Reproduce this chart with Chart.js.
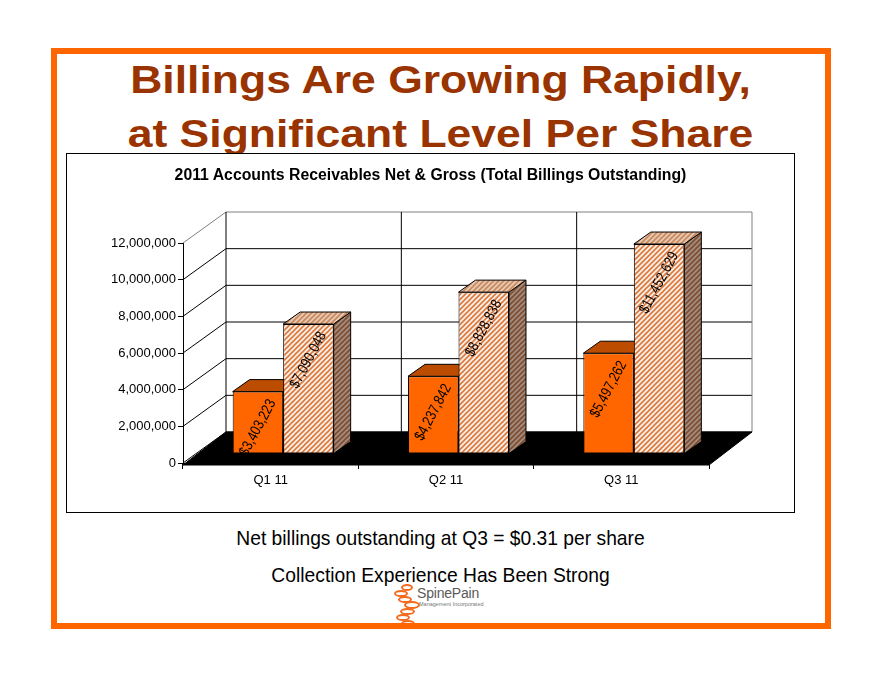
<!DOCTYPE html>
<html>
<head>
<meta charset="utf-8">
<script src="https://cdn.jsdelivr.net/npm/chart.js@4.4.0/dist/chart.umd.min.js"></script>
<style>
  body { margin: 0; width: 881px; height: 680px; background: #fff; position: relative; overflow: hidden;
         font-family: "Liberation Sans", Arial, sans-serif; }
  #frame { position: absolute; left: 51px; top: 48px; width: 780px; height: 581px; box-sizing: border-box;
           border: 6px solid #FF6600; z-index: 3; }
  #title { position: absolute; left: 0; top: 53px; width: 881px; text-align: center; color: #993300;
           font-weight: bold; font-size: 38px; line-height: 54px; transform: scaleX(1.171); }
  #chartBox { position: absolute; left: 66px; top: 153px; width: 729px; height: 360px; box-sizing: border-box;
              border: 1px solid #000; background: #fff; z-index: 2; }
  #chartBox canvas { display: block; position: absolute; left: 0; top: 0; }
  #chartTitle { position: absolute; left: 0; top: 11px; width: 727px; text-align: center; font-weight: bold;
                font-size: 15.8px; line-height: 20px; color: #000; z-index: 1; }
  #notes { position: absolute; left: 0; top: 519px; width: 881px; text-align: center; color: #000;
           font-size: 21px; line-height: 37px; transform: scaleX(0.917); }
  .disc { position: absolute; border: 2.5px solid #F26B1D; border-radius: 50%; background: #fff; }
  #logoName { position: absolute; left: 417px; top: 585px; font-size: 14px; color: #5a5a5a; letter-spacing: -0.2px; }
  #logoSub { position: absolute; left: 419px; top: 601px; font-size: 5.5px; color: #777; }
</style>
</head>
<body>
<div id="title">Billings Are Growing Rapidly,<br>at Significant Level Per Share</div>
<div id="chartBox">
  <canvas id="myChart" width="727" height="358"></canvas>
  <div id="chartTitle"></div>
</div>
<div id="notes">Net billings outstanding at Q3 = $0.31 per share<br>Collection Experience Has Been Strong</div>
<div class="disc" style="left:401px;top:584px;width:8px;height:3px"></div>
<div class="disc" style="left:394px;top:590px;width:10px;height:3px"></div>
<div class="disc" style="left:398px;top:596px;width:10px;height:3px"></div>
<div class="disc" style="left:404px;top:601px;width:12px;height:4px"></div>
<div class="disc" style="left:400px;top:608px;width:11px;height:3px"></div>
<div class="disc" style="left:396px;top:614px;width:10px;height:3px"></div>
<div class="disc" style="left:401px;top:620px;width:10px;height:3px"></div>
<div id="logoName">SpinePain</div>
<div id="logoSub">Management Incorporated</div>
<div id="frame"></div>

<script>
const categories = ['Q1 11', 'Q2 11', 'Q3 11'];
const netBillings = [3403223, 4237842, 5497262];
const grossBillings = [7090048, 8828838, 11452629];
const yMax = 12000000;
const yStep = 2000000;
const chartTitle = '2011 Accounts Receivables Net & Gross (Total Billings Outstanding)';

document.getElementById('chartTitle').textContent = chartTitle;

// 3d look: back wall offset, bars sit a bit into the floor, bar depth
const WALL_DX = 43, WALL_DY = -31;
const SHIFT_X = 12.5, SHIFT_Y = -9;
const BAR_DX = 17, BAR_DY = -12;

function hatch(bg, fg) {
    const c = document.createElement('canvas');
    c.width = 5; c.height = 5;
    const g = c.getContext('2d');
    g.fillStyle = bg;
    g.fillRect(0, 0, 5, 5);
    g.strokeStyle = fg;
    g.lineWidth = 1.7;
    g.beginPath();
    g.moveTo(-1, 6); g.lineTo(6, -1);
    g.moveTo(-1, 1); g.lineTo(1, -1);
    g.moveTo(4, 6); g.lineTo(6, 4);
    g.stroke();
    return g.createPattern(c, 'repeat');
}

const faces = [
    { front: '#FF6600', top: '#BC4C00', side: '#9C3F00' },
    { front: hatch('#FFFFFF', '#D86C28'), top: hatch('#EFD0B6', '#C0825A'), side: hatch('#A8948A', '#7A4626') }
];

function poly(ctx, pts, fill) {
    ctx.beginPath();
    ctx.moveTo(pts[0][0], pts[0][1]);
    for (let i = 1; i < pts.length; i++) ctx.lineTo(pts[i][0], pts[i][1]);
    ctx.closePath();
    ctx.fillStyle = fill;
    ctx.fill();
    ctx.stroke();
}

const box3d = {
    id: 'box3d',
    beforeDatasetsDraw(chart) {
        const ctx = chart.ctx;
        const a = chart.chartArea;
        const x = chart.scales.x, y = chart.scales.y;
        ctx.save();
        ctx.lineWidth = 1;

        // side wall diagonals + back wall grid lines
        y.ticks.forEach(t => {
            const py = y.getPixelForValue(t.value);
            ctx.strokeStyle = t.value === yMax ? '#808080' : '#000';
            ctx.beginPath();
            ctx.moveTo(a.left, py);
            ctx.lineTo(a.left + WALL_DX, py + WALL_DY);
            ctx.lineTo(a.right + WALL_DX, py + WALL_DY);
            ctx.stroke();
        });
        // back wall edges
        ctx.strokeStyle = '#808080';
        ctx.beginPath();
        ctx.moveTo(a.right + WALL_DX, a.top + WALL_DY);
        ctx.lineTo(a.right + WALL_DX, a.bottom + WALL_DY);
        ctx.stroke();
        ctx.strokeStyle = '#000';
        ctx.beginPath();
        ctx.moveTo(a.left + WALL_DX, a.top + WALL_DY);
        ctx.lineTo(a.left + WALL_DX, a.bottom + WALL_DY);
        for (let i = 1; i < categories.length; i++) {
            const px = (x.getPixelForValue(i - 1) + x.getPixelForValue(i)) / 2 + WALL_DX;
            ctx.moveTo(px, a.top + WALL_DY);
            ctx.lineTo(px, a.bottom + WALL_DY);
        }
        ctx.stroke();

        // floor
        poly(ctx, [[a.left, a.bottom + 2], [a.right, a.bottom + 2],
                   [a.right + WALL_DX, a.bottom + WALL_DY], [a.left + WALL_DX, a.bottom + WALL_DY]], '#000');
        ctx.restore();

        // bars: tops and sides, then chart.js draws the fronts in the same shifted space
        ctx.save();
        ctx.translate(SHIFT_X, SHIFT_Y);
        ctx.lineWidth = 1;
        ctx.strokeStyle = '#000';
        chart.data.datasets.forEach((ds, di) => {
            chart.getDatasetMeta(di).data.forEach(bar => {
                const p = bar.getProps(['x', 'y', 'base', 'width'], true);
                const l = p.x - p.width / 2, r = p.x + p.width / 2;
                poly(ctx, [[r, p.y], [r + BAR_DX, p.y + BAR_DY], [r + BAR_DX, p.base + BAR_DY], [r, p.base]], faces[di].side);
                poly(ctx, [[l, p.y], [l + BAR_DX, p.y + BAR_DY], [r + BAR_DX, p.y + BAR_DY], [r, p.y]], faces[di].top);
            });
        });
    },
    afterDatasetsDraw(chart) {
        const ctx = chart.ctx;
        const ang = -62 * Math.PI / 180;
        const squeeze = 0.82;
        ctx.font = '15px "Liberation Sans", Arial, sans-serif';
        ctx.fillStyle = '#000';
        ctx.textAlign = 'right';
        ctx.textBaseline = 'middle';
        chart.data.datasets.forEach((ds, di) => {
            chart.getDatasetMeta(di).data.forEach((bar, i) => {
                const p = bar.getProps(['x', 'y'], true);
                const txt = '$' + ds.data[i].toLocaleString('en-US');
                const L = ctx.measureText(txt).width * squeeze;
                const ex = p.x + Math.cos(ang) * L / 2;
                const ey = p.y + 9;
                ctx.save();
                ctx.translate(ex, ey);
                ctx.rotate(ang);
                ctx.scale(squeeze, 1);
                ctx.fillText(txt, 0, 0);
                ctx.restore();
            });
        });
        ctx.restore();
    }
};

const ctx = document.getElementById('myChart');
const myChart = new Chart(ctx, {
    type: 'bar',
    data: {
        labels: categories,
        datasets: [{
            label: 'Net',
            data: netBillings,
            backgroundColor: faces[0].front,
            borderColor: '#000',
            borderWidth: 1,
            borderSkipped: false
        }, {
            label: 'Gross',
            data: grossBillings,
            backgroundColor: faces[1].front,
            borderColor: '#000',
            borderWidth: 1,
            borderSkipped: false
        }]
    },
    options: {
        responsive: false,
        animation: false,
        categoryPercentage: 0.576,
        barPercentage: 1,
        layout: { padding: { left: 0, right: 85, top: 89, bottom: 0 } },
        plugins: {
            legend: { display: false },
            tooltip: { enabled: false },
            title: { display: false }
        },
        scales: {
            x: {
                offset: true,
                grid: { drawOnChartArea: false, color: '#000', tickLength: 6 },
                border: { color: '#000' },
                ticks: { color: '#000', padding: 4, font: { family: '"Liberation Sans", Arial, sans-serif', size: 13 } },
                afterFit: s => { s.height = 49; }
            },
            y: {
                min: 0,
                max: yMax,
                grid: { drawOnChartArea: false, color: '#000', tickLength: 5 },
                border: { color: '#000' },
                ticks: {
                    stepSize: yStep,
                    color: '#000',
                    padding: 2,
                    font: { family: '"Liberation Sans", Arial, sans-serif', size: 13 },
                    callback: v => v.toLocaleString('en-US')
                },
                afterFit: s => { s.width = 116; }
            }
        }
    },
    plugins: [box3d]
});
</script>
</body>
</html>
